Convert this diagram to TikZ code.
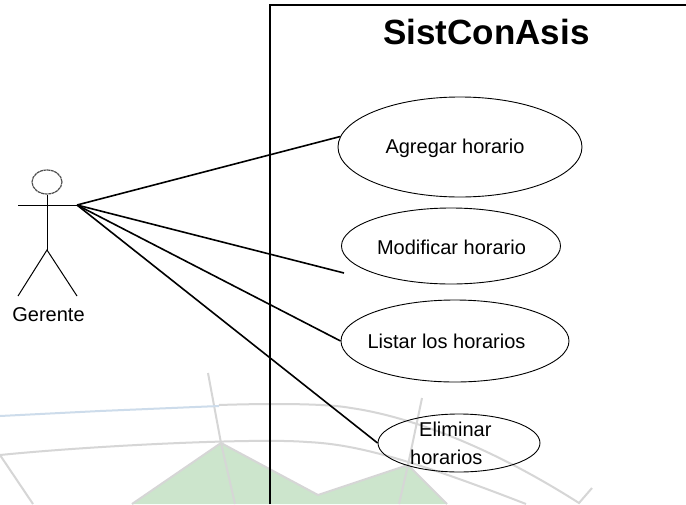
\documentclass[tikz,border=0pt]{standalone}
\usepackage{fontspec}
\setmainfont{Liberation Sans}
\usetikzlibrary{shapes.geometric}
\begin{document}
\begin{tikzpicture}[x=1pt,y=-1pt,
  case/.style={draw=black,ellipse,line width=0.9pt,inner sep=0pt,minimum width=0pt},
  lbl/.style={font=\fontsize{20}{22}\selectfont,inner sep=0pt},
  limb/.style={line width=1pt},
  assoc/.style={line width=1.6pt},
  wm/.style={draw=black!16,line width=2pt}]
\useasboundingbox (0,0) rectangle (686,504);
\fill[white] (0,0) rectangle (686,504);
% watermark
\fill[green!50!black!20!white] (132,504) -- (221,443) -- (318,495) -- (408,465) -- (447,504) -- cycle;
\draw[wm] (132,504) -- (221,443) -- (318,495) -- (408,465) -- (447,504);
\draw[wm] (208,373) -- (221,443) -- (235,504);
\draw[wm] (422,398) -- (408,465) -- (399,504);
\draw[wm] (0,455) .. controls (100,445) and (260,438) .. (307,442) .. controls (350,444) and (400,455) .. (526,504);
\draw[wm] (0,455) -- (33,504);
\draw[wm] (219,405) .. controls (280,403) and (330,404) .. (351,408) .. controls (400,415) and (480,440) .. (579,503) -- (592,488);
\draw[draw={rgb,255:red,205;green,220;blue,235},line width=2pt] (0,416) -- (100,411) -- (219,406);
% frame
\coordinate (frameBL) at (270,504);
\coordinate (frameTL) at (270,5);
\coordinate (frameTR) at (686,5);
\draw[line width=1.4pt] (frameBL) -- (frameTL) -- (frameTR);
\node[inner sep=0pt,font=\fontsize{35}{37}\bfseries\selectfont] (title) at (486.5,32) {SistConAsis};
% use cases
\node[case,minimum width=244pt,minimum height=100pt] (agregar) at (460,147) {};
\node[lbl] at (455,148) {Agregar horario};
\node[case,minimum width=219pt,minimum height=76pt] (modificar) at (451,246) {};
\node[lbl] at (451.5,247) {Modificar horario};
\node[case,minimum width=228pt,minimum height=82pt] (listar) at (455,341) {};
\node[lbl] at (446.5,341) {Listar los horarios};
\node[case,minimum width=162pt,minimum height=58pt] (eliminar) at (459,443) {};
\node[lbl,align=left,anchor=west,font=\fontsize{20}{28}\selectfont] at (410,443) {\hspace*{9pt}Eliminar\\horarios};
% actor
\node[draw=black!70,ellipse,dash pattern=on 3pt off 0.6pt,line width=1.2pt,minimum width=30pt,minimum height=24pt,inner sep=0pt] (head) at (47,182) {};
\coordinate (hip) at (47,250);
\coordinate (handL) at (18,205);
\coordinate (handR) at (77,205);
\coordinate (footL) at (18,296);
\coordinate (footR) at (77,296);
\draw[limb] (head.south) -- (hip);
\draw[limb] (handL) -- (handR);
\draw[limb] (footL) -- (hip) -- (footR);
\node[lbl] (gerente) at (48.5,315) {Gerente};
% connectors
\coordinate (modEnd) at (344,273);
\draw[assoc] (handR) -- (agregar.175);
\draw[assoc] (handR) -- (modEnd);
\draw[assoc] (handR) -- (listar.west);
\draw[assoc] (handR) -- (eliminar.west);
\end{tikzpicture}
\end{document}
